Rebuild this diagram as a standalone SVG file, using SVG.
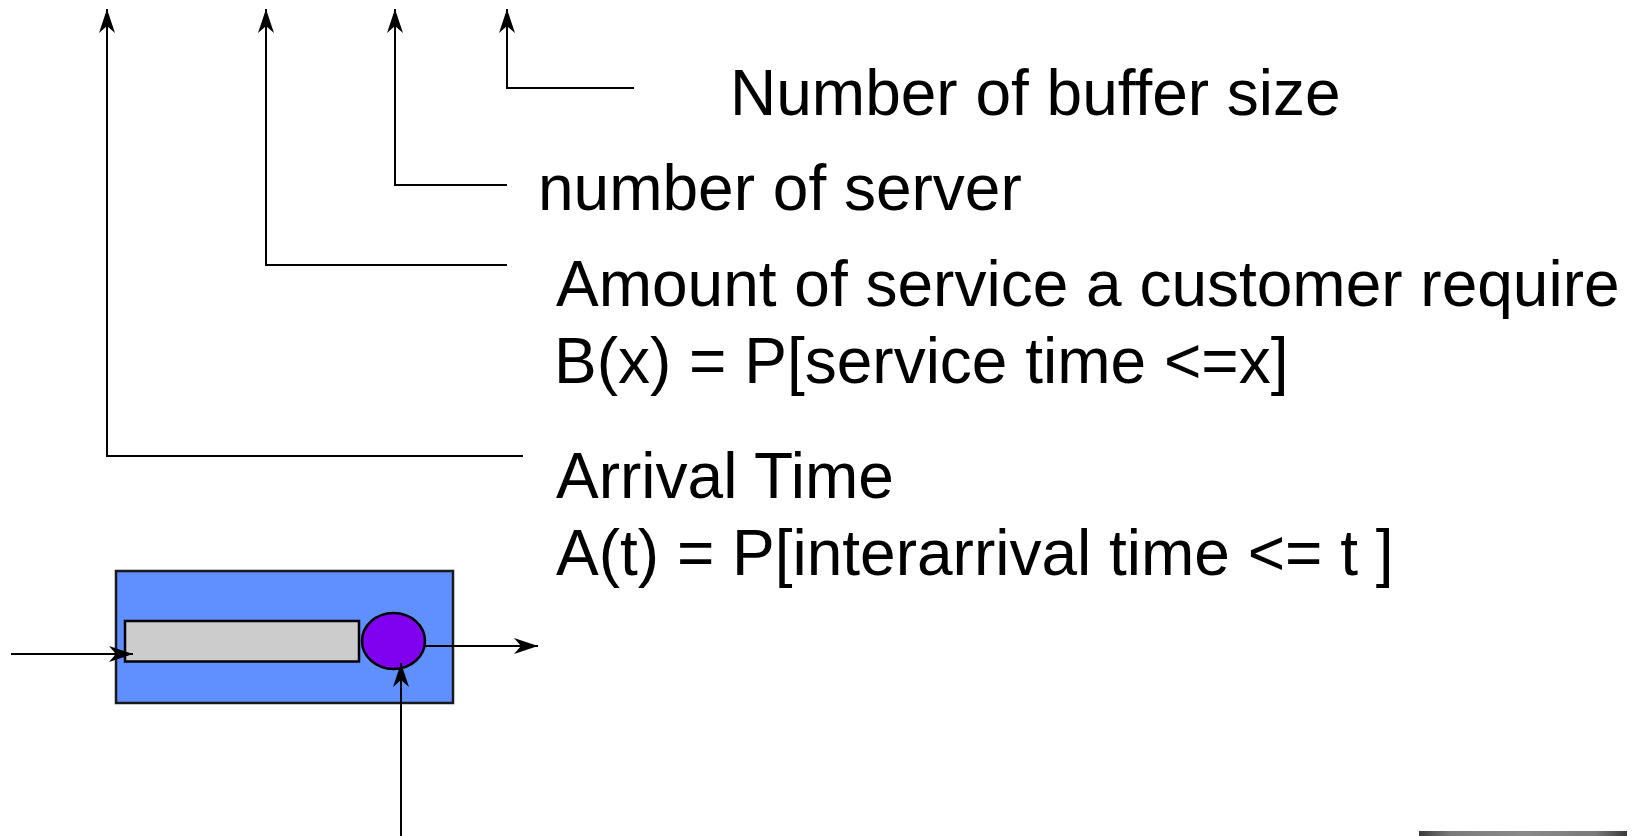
<svg xmlns="http://www.w3.org/2000/svg" width="1634" height="836" viewBox="0 0 1634 836">
<style>
.lbl{font-family:"Liberation Sans",Arial,sans-serif;font-size:64px;fill:#000}
.conn{fill:none;stroke:#000;stroke-width:2}
</style>
<defs>
<marker id="ah" markerUnits="userSpaceOnUse" markerWidth="26" markerHeight="18" viewBox="-25 -9 26 18" refX="0" refY="0" orient="auto">
<path d="M0,0 L-24,-8 L-17,0 L-24,8 Z" fill="#000"/>
</marker>
<linearGradient id="bar" x1="0" y1="0" x2="1" y2="0">
<stop offset="0" stop-color="#3a3a3a"/>
<stop offset="0.15" stop-color="#7a7a7a"/>
<stop offset="0.5" stop-color="#8a8a8a"/>
<stop offset="0.85" stop-color="#7a7a7a"/>
<stop offset="1" stop-color="#3a3a3a"/>
</linearGradient>
</defs>
<rect width="1634" height="836" fill="#fff"/>
<g id="queue">
<rect x="116" y="571" width="337" height="132" fill="#608fff" stroke="#1a1a1a" stroke-width="2.5"/>
</g>
<g id="buffer">
<rect x="125" y="621" width="234" height="40.5" fill="#cccccc" stroke="#000" stroke-width="2.5"/>
</g>
<g id="server">
<ellipse cx="393.5" cy="641" rx="31.5" ry="28" fill="#8000f0" stroke="#000" stroke-width="2.5"/>
</g>
<g id="connectors">
<path class="conn" d="M523 456 H107 V9" marker-end="url(#ah)"/>
<path class="conn" d="M507 265 H266 V9" marker-end="url(#ah)"/>
<path class="conn" d="M507 185 H395 V9" marker-end="url(#ah)"/>
<path class="conn" d="M634 88 H507 V9" marker-end="url(#ah)"/>
<path class="conn" d="M11 654 H133" marker-end="url(#ah)"/>
<path class="conn" d="M425 646 H538" marker-end="url(#ah)"/>
<path class="conn" d="M401 836 V663" marker-end="url(#ah)"/>
</g>
<g id="labels">
<text class="lbl" x="730" y="115">Number of buffer size</text>
<text class="lbl" x="538" y="210">number of server</text>
<text class="lbl" x="556" y="306">Amount of service a customer require</text>
<text class="lbl" x="554" y="383">B(x) = P[service time &lt;=x]</text>
<text class="lbl" x="556" y="498">Arrival Time</text>
<text class="lbl" x="556" y="575">A(t) = P[interarrival time &lt;= t ]</text>
</g>
<rect x="1419" y="831" width="208" height="5" fill="url(#bar)"/>
</svg>
